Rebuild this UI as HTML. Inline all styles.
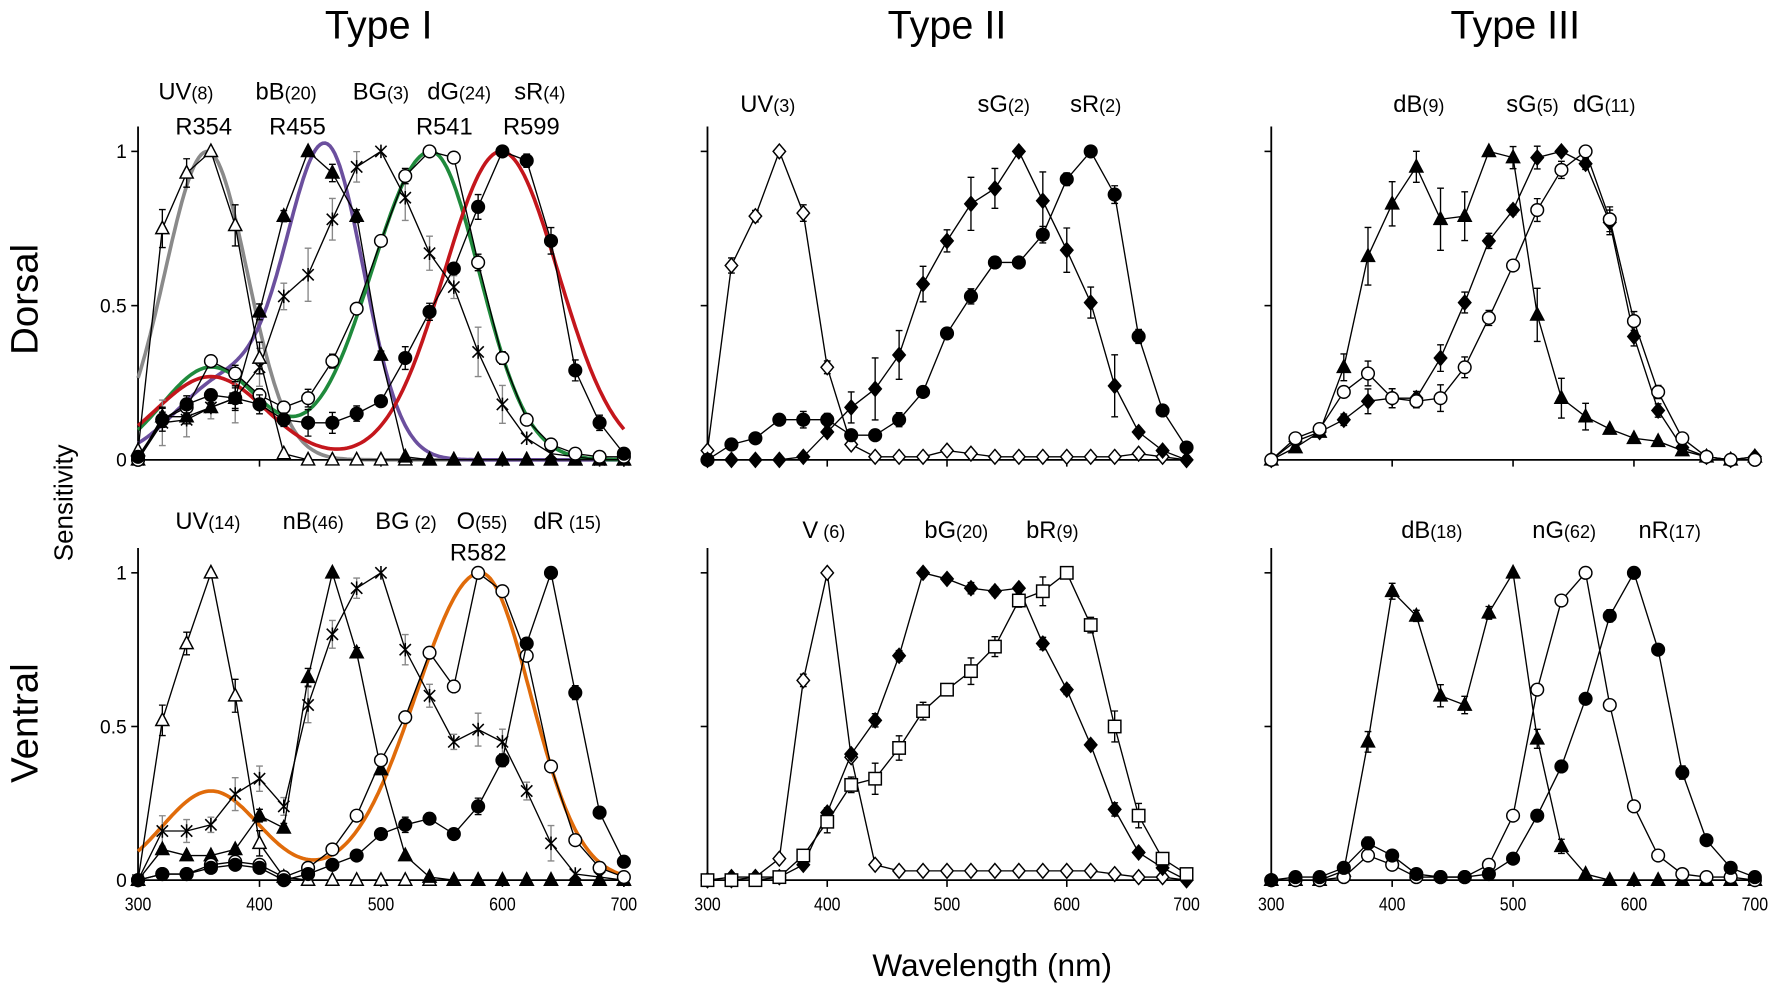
<!DOCTYPE html>
<html><head><meta charset="utf-8">
<style>
html,body{margin:0;padding:0;background:#fff;}
svg{display:block;font-family:"Liberation Sans",Arial,sans-serif;}
</style></head>
<body>
<svg id="s" width="1772" height="992" viewBox="0 0 1568 878" xmlns="http://www.w3.org/2000/svg">
<rect width="1568" height="878" fill="#fff"/>
<g font-size="35" text-anchor="middle" fill="#000">
<text x="335" y="34">Type I</text>
<text x="838" y="34">Type II</text>
<text x="1341" y="34">Type III</text>
</g>
<text x="878" y="864" font-size="28" text-anchor="middle">Wavelength (nm)</text>
<text transform="translate(33,265) rotate(-90)" font-size="34" text-anchor="middle">Dorsal</text>
<text transform="translate(33,640) rotate(-90)" font-size="34" text-anchor="middle">Ventral</text>
<text transform="translate(64,445) rotate(-90)" font-size="23" text-anchor="middle">Sensitivity</text>
<g id="g"></g>
<g font-size="21" fill="#000">
<text x="140" y="88">UV<tspan font-size="16">(8)</tspan></text>
<text x="155" y="119">R354</text>
<text x="226" y="88">bB<tspan font-size="16">(20)</tspan></text>
<text x="238" y="119">R455</text>
<text x="312" y="88">BG<tspan font-size="16">(3)</tspan></text>
<text x="378" y="88">dG<tspan font-size="16">(24)</tspan></text>
<text x="368" y="119">R541</text>
<text x="455" y="88">sR<tspan font-size="16">(4)</tspan></text>
<text x="445" y="119">R599</text>
<text x="655" y="99">UV<tspan font-size="16">(3)</tspan></text>
<text x="865" y="99">sG<tspan font-size="16">(2)</tspan></text>
<text x="947" y="99">sR<tspan font-size="16">(2)</tspan></text>
<text x="1233" y="99">dB<tspan font-size="16">(9)</tspan></text>
<text x="1333" y="99">sG<tspan font-size="16">(5)</tspan></text>
<text x="1392" y="99">dG<tspan font-size="16">(11)</tspan></text>
<text x="155" y="468">UV<tspan font-size="16">(14)</tspan></text>
<text x="250" y="468">nB<tspan font-size="16">(46)</tspan></text>
<text x="332" y="468">BG<tspan font-size="16"> (2)</tspan></text>
<text x="404" y="468">O<tspan font-size="16">(55)</tspan></text>
<text x="472" y="468">dR<tspan font-size="16"> (15)</tspan></text>
<text x="398" y="496">R582</text>
<text x="710" y="476">V<tspan font-size="16"> (6)</tspan></text>
<text x="818" y="476">bG<tspan font-size="16">(20)</tspan></text>
<text x="908" y="476">bR<tspan font-size="16">(9)</tspan></text>
<text x="1240" y="476">dB<tspan font-size="16">(18)</tspan></text>
<text x="1356" y="476">nG<tspan font-size="16">(62)</tspan></text>
<text x="1450" y="476">nR<tspan font-size="16">(17)</tspan></text>
</g>
</svg>
<script>
(function(){
var g=document.getElementById("g"),out="";
var P={L:[122,552],M:[626,1050],R:[1125,1553]},Y={T:[407,134],B:[779,507]};
function X(p,w){return P[p][0]+(w-300)*(P[p][1]-P[p][0])/400;}
function Yv(r,s){return Y[r][0]-s*(Y[r][0]-Y[r][1]);}
function f1(v){return (Math.round(v*10)/10).toString();}
function G(l,c,s){return Math.exp(-0.5*Math.pow((l-c)/s,2));}
function tmpl(l,lm,sl,sr,bc,ba,bs){return G(l,lm,l<lm?sl:sr)+(ba?ba*G(l,bc,bs):0);}
["L","M","R"].forEach(function(p){["T","B"].forEach(function(r){
var x0=P[p][0],x1=P[p][1],y0=Y[r][0],yt=Y[r][1]-22;
out+='<line x1="'+x0+'" y1="'+yt+'" x2="'+x0+'" y2="'+y0+'" stroke="#000" stroke-width="1.6"/>';
out+='<line x1="'+x0+'" y1="'+y0+'" x2="'+(x1+3)+'" y2="'+y0+'" stroke="#000" stroke-width="1.6"/>';
[1,0.5].forEach(function(s){var y=Yv(r,s);out+='<line x1="'+(x0-6)+'" y1="'+y+'" x2="'+x0+'" y2="'+y+'" stroke="#000" stroke-width="1.4"/>';});
for(var w=300;w<=700;w+=100){var x=X(p,w);out+='<line x1="'+x+'" y1="'+y0+'" x2="'+x+'" y2="'+(y0+6)+'" stroke="#000" stroke-width="1.4"/>';
if(r=="B")out+='<text x="'+x+'" y="'+(y0+27)+'" font-size="16" text-anchor="middle" transform="translate('+x+',0) scale(0.88,1) translate('+(-x)+',0)">'+w+'</text>';}
if(p=="L"){out+='<text x="'+(x0-10)+'" y="'+(Yv(r,1)+6)+'" font-size="17" text-anchor="end">1</text>';
out+='<text x="'+(x0-10)+'" y="'+(Yv(r,0.5)+6)+'" font-size="17" text-anchor="end">0.5</text>';
out+='<text x="'+(x0-10)+'" y="'+(Yv(r,0)+6)+'" font-size="17" text-anchor="end">0</text>';}
});});
function curve(p,r,col,a){var d="";for(var l=300;l<=700;l+=2){var v=tmpl(l,a[0],a[1],a[2],a[3],a[4],a[5]);d+=(l==300?"M":"L")+f1(X(p,l))+","+f1(Yv(r,v));}
out+='<path d="'+d+'" fill="none" stroke="'+col+'" stroke-width="3.2"/>';}
curve("L","T","#8a8a8a",[357,35,33,0,0,1]);
curve("L","T","#6b4f9e",[455,33,31,370,0.25,40]);
curve("L","T","#1f8a3c",[541,49,40,360,0.3,40]);
curve("L","T","#c4161c",[599,47,47,360,0.27,45]);
curve("L","B","#e06b0a",[582,53,41,360,0.29,40]);
function mk(t,x,y){var f=t[1]=="f"?"#000":"#fff",r=5.6,s='stroke="#000" stroke-width="1.3" fill="'+f+'"';
if(t[0]=="c")return '<circle cx="'+f1(x)+'" cy="'+f1(y)+'" r="'+r+'" '+s+'/>';
if(t[0]=="t")return '<path d="M'+f1(x)+','+f1(y-6.5)+'L'+f1(x+5.8)+','+f1(y+4.5)+'L'+f1(x-5.8)+','+f1(y+4.5)+'Z" '+s+'/>';
if(t[0]=="d")return '<path d="M'+f1(x)+','+f1(y-6.5)+'L'+f1(x+5.5)+','+f1(y)+'L'+f1(x)+','+f1(y+6.5)+'L'+f1(x-5.5)+','+f1(y)+'Z" '+s+'/>';
if(t[0]=="s")return '<rect x="'+f1(x-5.5)+'" y="'+f1(y-5.5)+'" width="11" height="11" '+s+'/>';
if(t[0]=="x")return '<path d="M'+f1(x-5)+','+f1(y-5)+'L'+f1(x+5)+','+f1(y+5)+'M'+f1(x+5)+','+f1(y-5)+'L'+f1(x-5)+','+f1(y+5)+'M'+f1(x)+','+f1(y-6)+'L'+f1(x)+','+f1(y+6)+'" stroke="#000" stroke-width="1.4" fill="none"/>';
return "";}
function ser(p,r,t,v,eb){var pts=v.map(function(s,i){return [X(p,300+20*i),Yv(r,s)];});
if(eb){v.forEach(function(s,i){if(s>0.1&&s<0.99){var e=eb*(0.5+((i*37)%10)/10)*14;var x=pts[i][0],y=pts[i][1];
out+='<path d="M'+f1(x)+','+f1(y-e)+'L'+f1(x)+','+f1(y+e)+'M'+f1(x-3)+','+f1(y-e)+'L'+f1(x+3)+','+f1(y-e)+'M'+f1(x-3)+','+f1(y+e)+'L'+f1(x+3)+','+f1(y+e)+'" stroke="'+(t=="x"?"#888":"#000")+'" stroke-width="1.2" fill="none"/>';}});}
out+='<polyline points="'+pts.map(function(q){return f1(q[0])+","+f1(q[1])}).join(" ")+'" fill="none" stroke="#000" stroke-width="1.2"/>';
pts.forEach(function(q){out+=mk(t,q[0],q[1]);});}
ser("L","T","x",[0,0.12,0.13,0.17,0.2,0.3,0.53,0.6,0.78,0.95,1.0,0.85,0.67,0.56,0.35,0.18,0.07,0.02,0.01,0,0],1.2);
ser("L","T","to",[0.03,0.75,0.93,1.0,0.76,0.33,0.02,0,0,0,0,0,0,0,0,0,0,0,0,0,0],1);
ser("L","T","tf",[0,0.14,0.14,0.17,0.2,0.48,0.79,1.0,0.93,0.79,0.34,0.01,0,0,0,0,0,0,0,0,0],0.5);
ser("L","T","co",[0,0.13,0.17,0.32,0.28,0.21,0.17,0.2,0.32,0.49,0.71,0.92,1.0,0.98,0.64,0.33,0.13,0.05,0.02,0.01,0.01],0.4);
ser("L","T","cf",[0.01,0.13,0.18,0.21,0.2,0.18,0.13,0.12,0.12,0.15,0.19,0.33,0.48,0.62,0.82,1.0,0.97,0.71,0.29,0.12,0.02],0.6);
ser("L","B","x",[0,0.16,0.16,0.18,0.28,0.33,0.24,0.57,0.8,0.95,1.0,0.75,0.6,0.45,0.49,0.45,0.29,0.12,0.02,0.01,0],0.8);
ser("L","B","to",[0,0.52,0.77,1.0,0.6,0.12,0.01,0,0,0,0,0,0,0,0,0,0,0,0,0,0],0.8);
ser("L","B","tf",[0,0.1,0.08,0.08,0.1,0.21,0.17,0.66,1.0,0.74,0.36,0.08,0.01,0,0,0,0,0,0,0,0],0.4);
ser("L","B","co",[0,0.02,0.02,0.05,0.06,0.05,0.01,0.04,0.1,0.21,0.39,0.53,0.74,0.63,1.0,0.94,0.73,0.37,0.13,0.04,0.01],0);
ser("L","B","cf",[0,0.02,0.02,0.04,0.05,0.04,0,0.02,0.05,0.08,0.15,0.18,0.2,0.15,0.24,0.39,0.77,1.0,0.61,0.22,0.06],0.4);
ser("M","T","do",[0.03,0.63,0.79,1.0,0.8,0.3,0.05,0.01,0.01,0.01,0.03,0.02,0.01,0.01,0.01,0.01,0.01,0.01,0.02,0.01,0],0.4);
ser("M","T","df",[0,0,0,0,0.01,0.09,0.17,0.23,0.34,0.57,0.71,0.83,0.88,1.0,0.84,0.68,0.51,0.24,0.09,0.03,0],1.4);
ser("M","T","cf",[0,0.05,0.07,0.13,0.13,0.13,0.08,0.08,0.13,0.22,0.41,0.53,0.64,0.64,0.73,0.91,1.0,0.86,0.4,0.16,0.04],0.4);
ser("M","B","do",[0,0,0.01,0.07,0.65,1.0,0.4,0.05,0.03,0.03,0.03,0.03,0.03,0.03,0.03,0.03,0.03,0.02,0.01,0.01,0],0.3);
ser("M","B","df",[0,0.01,0.01,0.01,0.05,0.22,0.41,0.52,0.73,1.0,0.98,0.95,0.94,0.95,0.77,0.62,0.44,0.23,0.09,0.04,0],0.3);
ser("M","B","so",[0,0,0,0.01,0.08,0.19,0.31,0.33,0.43,0.55,0.62,0.68,0.76,0.91,0.94,1.0,0.83,0.5,0.21,0.07,0.02],0.7);
ser("R","T","tf",[0,0.04,0.09,0.3,0.66,0.83,0.95,0.78,0.79,1.0,0.98,0.47,0.2,0.14,0.1,0.07,0.06,0.03,0.01,0,0.01],1.4);
ser("R","T","df",[0,0.06,0.09,0.13,0.19,0.2,0.2,0.33,0.51,0.71,0.81,0.98,1.0,0.96,0.77,0.4,0.16,0.04,0.01,0,0.01],0.6);
ser("R","T","co",[0,0.07,0.1,0.22,0.28,0.2,0.19,0.2,0.3,0.46,0.63,0.81,0.94,1.0,0.78,0.45,0.22,0.07,0.01,0,0],0.6);
ser("R","B","tf",[0,0,0,0.03,0.45,0.94,0.86,0.6,0.57,0.87,1.0,0.46,0.11,0.02,0,0,0,0,0,0,0],0.5);
ser("R","B","co",[0,0,0,0.01,0.08,0.05,0.01,0.01,0.01,0.05,0.21,0.62,0.91,1.0,0.57,0.24,0.08,0.02,0.01,0.01,0],0);
ser("R","B","cf",[0,0.01,0.01,0.04,0.12,0.08,0.02,0.01,0.01,0.02,0.07,0.21,0.37,0.59,0.86,1.0,0.75,0.35,0.13,0.04,0.01],0.3);
g.innerHTML=out;
})();
</script>
</body></html>
